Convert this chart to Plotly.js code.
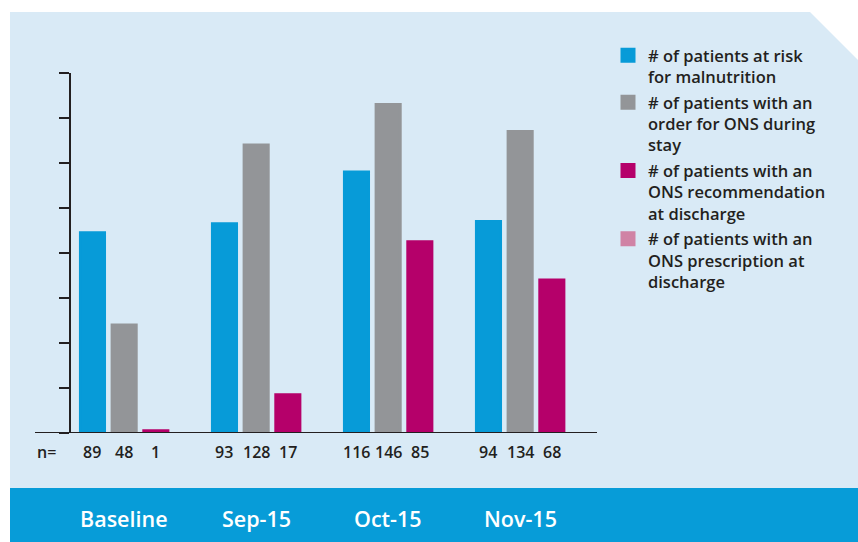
<!DOCTYPE html>
<html>
<head>
<meta charset="utf-8">
<script src="https://cdn.plot.ly/plotly-3.0.1.min.js"></script>
<style>html,body{margin:0;padding:0;background:#fff;}#chart{width:858px;height:542px;}</style>
</head>
<body>
<div id="chart"></div>
<script>
// ---- data ----
var categories = ['Baseline', 'Sep-15', 'Oct-15', 'Nov-15'];
var seriesNames = [
  '# of patients at risk<br>for malnutrition',
  '# of patients with an<br>order for ONS during<br>stay',
  '# of patients with an<br>ONS recommendation<br>at discharge',
  '# of patients with an<br>ONS prescription at<br>discharge'
];
var atRisk = [89, 93, 116, 94];
var orderONS = [48, 128, 146, 134];
var recommendONS = [1, 17, 85, 68];
var prescriptionONS = [null, null, null, null];
var yTicks = [0, 20, 40, 60, 80, 100, 120, 140, 160];

// ---- styling / geometry ----
var colors = ['#079bd8', '#939598', '#b5006a', '#d083a5'];
var dark = '#231f20';
var W = 858, H = 542;
var L = 71, R = 597, T = 73, B = 433;
var bargap = 0.04, bargroupgap = 0.24;
var nSeries = 4;
function px2x(p) { return (p - L) / (R - L); }
function px2y(p) { return (B - p) / (B - T); }
var groupW = 1 - bargap, slotW = groupW / nSeries;
function slotCenter(i, s) { return i - groupW / 2 + (s + 0.5) * slotW; }

var allSeries = [atRisk, orderONS, recommendONS, prescriptionONS];
var traces = allSeries.map(function (vals, s) {
  return {
    type: 'bar',
    x: categories.map(function (c, i) { return i; }),
    y: vals,
    name: seriesNames[s],
    legendgroup: 'g' + s,
    marker: { color: colors[s], line: { width: 3, color: colors[s] } },
    hoverinfo: 'skip'
  };
});

var fam = '"Open Sans", "DejaVu Sans", sans-serif';
var font = { family: fam, size: 16, color: dark, weight: 600 };
var legendFont = { family: fam, size: 16.5, color: dark, weight: 600 };

var annotations = [];
annotations.push({
  xref: 'paper', yref: 'paper', x: px2x(35), y: px2y(452), xanchor: 'left', yanchor: 'middle',
  text: 'n=', showarrow: false, font: font
});
categories.forEach(function (c, i) {
  [atRisk, orderONS, recommendONS].forEach(function (vals, s) {
    annotations.push({
      xref: 'x', yref: 'paper', x: slotCenter(i, s), y: px2y(452), xanchor: 'center', yanchor: 'middle',
      text: String(vals[i]), showarrow: false, font: font
    });
  });
  annotations.push({
    xref: 'x', yref: 'paper', x: slotCenter(i, 1), y: px2y(518), xanchor: 'center', yanchor: 'middle',
    text: c, showarrow: false,
    font: { family: fam, size: 21.5, color: '#ffffff', weight: 600 }
  });
});

var panelPath = 'M' + px2x(10) + ',' + px2y(12) +
  ' L' + px2x(810) + ',' + px2y(12) +
  ' L' + px2x(858) + ',' + px2y(60) +
  ' L' + px2x(858) + ',' + px2y(488) +
  ' L' + px2x(10) + ',' + px2y(488) + ' Z';

var shapes = [
  { type: 'path', xref: 'paper', yref: 'paper', path: panelPath, fillcolor: '#d9eaf6', line: { width: 0 }, layer: 'below' },
  { type: 'rect', xref: 'paper', yref: 'paper', x0: px2x(10), x1: px2x(858), y0: px2y(488), y1: px2y(542),
    fillcolor: '#079cd8', line: { width: 0 }, layer: 'below' },
  { type: 'line', xref: 'paper', yref: 'y', x0: px2x(35), x1: px2x(597), y0: 0, y1: 0,
    line: { color: dark, width: 2 }, layer: 'above' }
];

var layout = {
  width: W, height: H, autosize: false,
  margin: { l: L, r: W - R, t: T, b: H - B, pad: 0 },
  paper_bgcolor: '#ffffff', plot_bgcolor: 'rgba(0,0,0,0)',
  barmode: 'group', bargap: bargap, bargroupgap: bargroupgap,
  showlegend: true,
  legend: {
    x: px2x(608), y: px2y(38), xanchor: 'left', yanchor: 'top',
    xref: 'paper', yref: 'paper',
    bgcolor: 'rgba(0,0,0,0)', borderwidth: 0,
    font: legendFont, valign: 'top', traceorder: 'grouped', tracegroupgap: 1
  },
  xaxis: {
    type: 'linear', range: [-(140 - L) / 132, (R - 140) / 132],
    showgrid: false, zeroline: false, showline: false, showticklabels: false, ticks: '', fixedrange: true
  },
  yaxis: {
    range: [0, 160], tickvals: yTicks, showticklabels: false,
    ticks: 'outside', ticklen: 10, tickwidth: 2, tickcolor: dark,
    showline: true, linecolor: dark, linewidth: 2,
    showgrid: false, zeroline: false, fixedrange: true
  },
  shapes: shapes,
  annotations: annotations,
  font: font
};

Plotly.newPlot('chart', traces, layout, { displayModeBar: false, staticPlot: true });
</script>
</body>
</html>
